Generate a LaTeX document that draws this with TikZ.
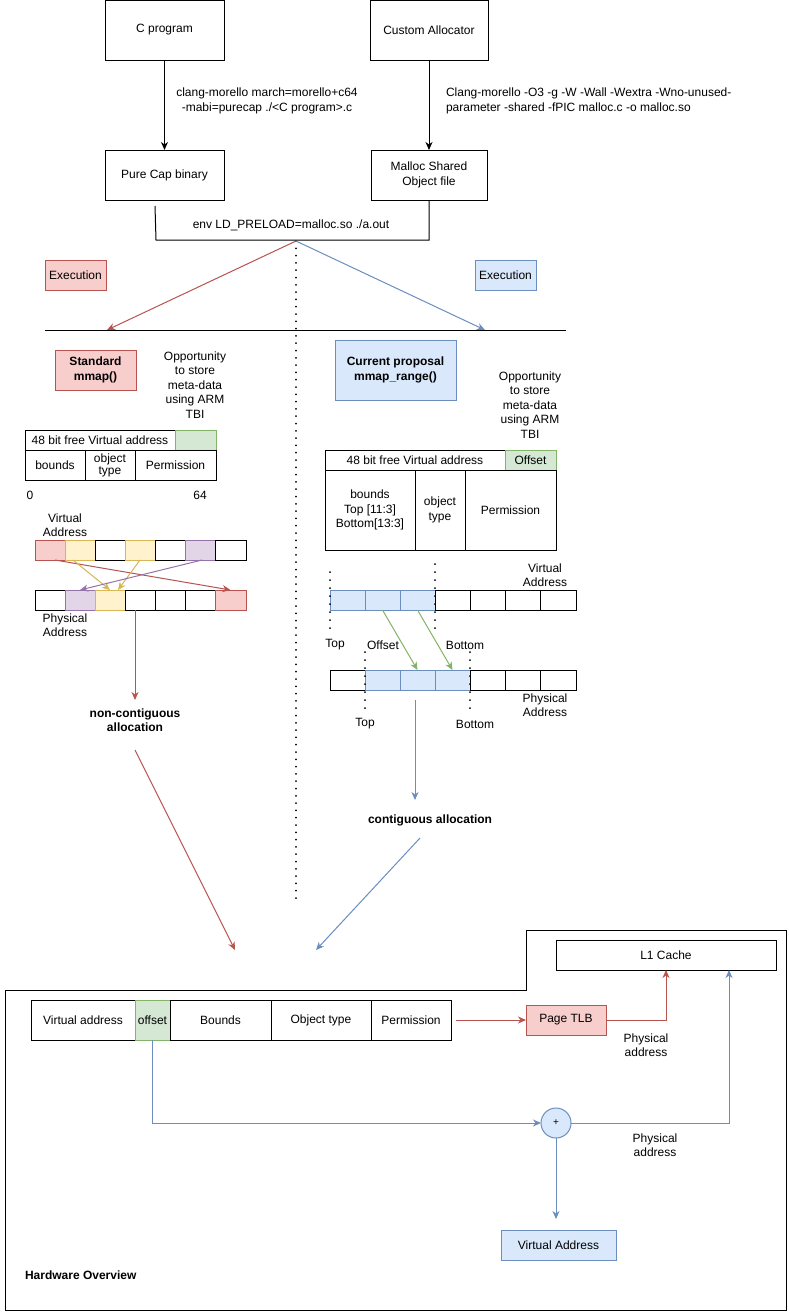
\documentclass[tikz,border=0pt]{standalone}
\usepackage{fontspec}
\setmainfont{Liberation Sans}
\usetikzlibrary{arrows.meta}
\definecolor{redF}{HTML}{F8CECC}\definecolor{redS}{HTML}{B85450}
\definecolor{bluF}{HTML}{DAE8FC}\definecolor{bluS}{HTML}{6C8EBF}
\definecolor{grnF}{HTML}{D5E8D4}\definecolor{grnS}{HTML}{82B366}
\definecolor{yelF}{HTML}{FFF2CC}\definecolor{yelS}{HTML}{D6B656}
\definecolor{purF}{HTML}{E1D5E7}\definecolor{purS}{HTML}{9673A6}
\newcommand{\rb}[7]{\node[#6, minimum width={#4-#2}, minimum height={#5-#3}] (#1) at ({(#2+#4)/2},{(#3+#5)/2}) {#7};}
\begin{document}
\begin{tikzpicture}[x=1pt,y=-1pt,
  every node/.style={font=\fontsize{12}{14.4}\selectfont, inner sep=0pt, outer sep=0pt, align=center},
  blk/.style={draw=black, line width=1pt, fill=white},
  rbx/.style={draw=redS, fill=redF, line width=1pt},
  bbx/.style={draw=bluS, fill=bluF, line width=1pt},
  gbx/.style={draw=grnS, fill=grnF, line width=1pt},
  ybx/.style={draw=yelS, fill=yelF, line width=1pt},
  pbx/.style={draw=purS, fill=purF, line width=1pt},
  bbl/.style={draw=bluS, fill=bluF, line width=0.8pt},
  bold/.style={font=\fontsize{12}{14.4}\selectfont\bfseries},
  tip/.style={-{Stealth[length=8pt,width=7pt,inset=2.5pt]}},
  arr/.style={tip, line width=1pt, draw=black},
  rarr/.style={tip, line width=1pt, draw=redS, color=redS},
  barr/.style={tip, line width=1pt, draw=bluS, color=bluS},
  garr/.style={tip, line width=1pt, draw=grnS, color=grnS},
  yarr/.style={tip, line width=1pt, draw=yelS, color=yelS},
  parr/.style={tip, line width=1pt, draw=purS, color=purS},
  dots/.style={line width=2pt, line cap=round, dash pattern=on 0pt off 7.3pt},
  sdots/.style={line width=2pt, line cap=round, dash pattern=on 0pt off 8pt}]
\useasboundingbox (0,0) rectangle (789,1312);
\fill[white] (0,0) rectangle (789,1312);

% ---------- top ----------
\rb{cprog}{105}{0}{224}{60}{blk}{C program}
\rb{custom}{370}{0}{488}{60}{blk}{Custom Allocator}
\rb{pcb}{105}{150}{224}{200}{blk}{Pure Cap binary}
\rb{mso}{371}{150}{487}{200}{blk}{Malloc Shared\\Object file}
\draw[arr] (cprog) -- (pcb);
\draw[arr] (custom.south) -- (custom.south |- mso.north);
\node (lab1) at (267,101) {clang-morello march=morello+c64\\ -mabi=purecap ./<C program>.c};
\node[anchor=west, align=left] (lab2) at (446,101) {Clang-morello -O3 -g -W -Wall -Wextra -Wno-unused-\\parameter -shared -fPIC malloc.c -o malloc.so};
\coordinate (brA) at (155,206);
\coordinate (brB) at (156,240);
\coordinate (brC) at (429,240);
\draw[line width=1pt] (brA) -- (brB) -- (brC) -- (brC |- mso.south);
\node (env) at (291,225) {env LD\_PRELOAD=malloc.so ./a.out};

% dotted divider
\coordinate (dtop) at (296,241);
\coordinate (dbot) at (296,900);
\draw[dots] (dtop) -- (dbot);
\coordinate (exL) at (107,330);
\coordinate (exR) at (485,330);
\draw[rarr] (dtop) -- (exL);
\draw[barr] (dtop) -- (exR);
\coordinate (hlA) at (45,330);
\coordinate (hlB) at (566,330);
\draw[line width=1pt] (hlA) -- (hlB);
\rb{execL}{45}{260}{106}{290}{rbx}{Execution}
\rb{execR}{475}{260}{536}{290}{bbx}{Execution}

% ---------- left ----------
\rb{std}{55}{350}{136}{390}{rbx,bold}{Standard\\mmap()}
\node (oppL) at (195,385) {Opportunity\\to store\\meta-data\\using ARM\\TBI};
\rb{lt1}{25}{430}{175}{450}{blk}{48 bit free Virtual address}
\rb{lt2}{175}{430}{216}{450}{gbx}{}
\rb{lt3}{25}{450}{85}{480}{blk}{bounds}
\rb{lt4}{85}{450}{135}{480}{blk,font=\fontsize{12}{12}\selectfont}{object\\type}
\rb{lt5}{135}{450}{216}{480}{blk}{Permission}
\node (zero) at (30,495) {0};
\node (sixfour) at (200,495) {64};
\node (vaL) at (65,525) {Virtual\\Address};
\rb{v1}{35}{540}{65}{560}{rbx}{}
\rb{v2}{65}{540}{95}{560}{ybx}{}
\rb{v3}{95}{540}{125}{560}{blk}{}
\rb{v4}{125}{540}{155}{560}{ybx}{}
\rb{v5}{155}{540}{185}{560}{blk}{}
\rb{v6}{185}{540}{215}{560}{pbx}{}
\rb{v7}{215}{540}{246}{560}{blk}{}
\rb{p1}{35}{590}{65}{610}{blk}{}
\rb{p2}{65}{590}{95}{610}{pbx}{}
\rb{p3}{95}{590}{125}{610}{ybx}{}
\rb{p4}{125}{590}{155}{610}{blk}{}
\rb{p5}{155}{590}{185}{610}{blk}{}
\rb{p6}{185}{590}{215}{610}{blk}{}
\rb{p7}{215}{590}{246}{610}{rbx}{}
\draw[rarr] ([xshift=5pt]v1.south) -- (p7.north);
\draw[yarr] ([xshift=-7pt]v2.south) -- (p3.north);
\draw[yarr] (v4.south) -- ([xshift=8pt]p3.north);
\draw[parr] ([xshift=2pt]v6.south) -- (p2.north);
\node (paL) at (65,625) {Physical\\Address};
\coordinate (ncEnd) at (135,700);
\draw[rarr] ([xshift=-5pt]p4.south) -- (ncEnd);
\node[bold] (nc) at (135,720) {non-contiguous\\allocation};
\coordinate (ncA) at (135,750);
\coordinate (ncB) at (235,950);
\draw[rarr] (ncA) -- (ncB);

% ---------- right ----------
\rb{cur}{335}{340}{456}{400}{bbx,bold}{Current proposal\\mmap\_range()}
\node (oppR) at (530,405) {Opportunity\\to store\\meta-data\\using ARM\\TBI};
\rb{rt1}{325}{450}{505}{470}{blk}{48 bit free Virtual address}
\rb{rt2}{505}{450}{556}{470}{gbx}{Offset}
\rb{rt3}{325}{470}{415}{550}{blk}{bounds\\Top [11:3]\\Bottom[13:3]}
\rb{rt4}{415}{470}{465}{550}{blk}{object\\type}
\rb{rt5}{465}{470}{556}{550}{blk}{Permission}
\rb{rv1}{330}{590}{365}{610}{bbl}{}
\rb{rv2}{365}{590}{400}{610}{bbl}{}
\rb{rv3}{400}{590}{435}{610}{bbl}{}
\rb{rv4}{435}{590}{470}{610}{blk}{}
\rb{rv5}{470}{590}{505}{610}{blk}{}
\rb{rv6}{505}{590}{540}{610}{blk}{}
\rb{rv7}{540}{590}{576}{610}{blk}{}
\rb{rp1}{330}{670}{365}{690}{blk}{}
\rb{rp2}{365}{670}{400}{690}{bbl}{}
\rb{rp3}{400}{670}{435}{690}{bbl}{}
\rb{rp4}{435}{670}{470}{690}{bbl}{}
\rb{rp5}{470}{670}{505}{690}{blk}{}
\rb{rp6}{505}{670}{540}{690}{blk}{}
\rb{rp7}{540}{670}{576}{690}{blk}{}
\coordinate (d1a) at (330,572); \coordinate (d1b) at (330,630);
\coordinate (d2a) at (435,564); \coordinate (d2b) at (435,630);
\coordinate (d3a) at (365,652); \coordinate (d3b) at (365,710);
\coordinate (d4a) at (470,652); \coordinate (d4b) at (470,710);
\draw[sdots] (d1a) -- (d1b);
\draw[sdots] (d2a) -- (d2b);
\draw[sdots] (d3a) -- (d3b);
\draw[sdots] (d4a) -- (d4b);
\node (vaR) at (545,575) {Virtual\\Address};
\node (topV) at (335,645) {Top};
\node (offV) at (383,645) {Offset};
\node (botV) at (465,645) {Bottom};
\draw[garr] (rv2.south) -- (rp3.north);
\draw[garr] (rv3.south) -- (rp4.north);
\node (paR) at (545,705) {Physical\\Address};
\node (topP) at (365,724) {Top};
\node (botP) at (475,724) {Bottom};
\coordinate (caA) at (415,700);
\coordinate (caB) at (415,800);
\draw[barr] (caA) -- (caB);
\node[bold] (ca) at (430,820) {contiguous allocation};
\coordinate (caC) at (420,838);
\coordinate (caD) at (316,950);
\draw[barr] (caC) -- (caD);

% ---------- hardware ----------
\draw[line width=1pt] (5,990) -- (526,990) -- (526,930) -- (786,930) -- (786,1310) -- (5,1310) -- cycle;
\rb{l1}{556}{940}{776}{970}{blk}{L1 Cache}
\rb{hv}{31}{1000}{135}{1040}{blk}{Virtual address}
\rb{hoff}{135}{1000}{170}{1040}{gbx}{offset}
\rb{hb}{170}{1000}{271}{1040}{blk}{Bounds}
\rb{hot}{271}{1000}{371}{1040}{blk}{Object type}
\rb{hp}{371}{1000}{451}{1040}{blk}{Permission}
\rb{tlb}{526}{1005}{606}{1035}{rbx}{Page TLB}
\coordinate (hrow) at (456,1020);
\draw[rarr] (hrow) -- (tlb.west);
\draw[rarr] (tlb.east) -| (l1.south);
\node (pa1) at (646,1045) {Physical\\address};
\node[circle, draw=bluS, fill=bluF, line width=1pt, minimum size=30pt, font=\fontsize{10}{10}\selectfont] (plus) at (556,1123) {+};
\draw[barr] (hoff.south) |- (plus.west);
\coordinate (l1in) at (729,970);
\draw[barr] (plus.east) -| (l1in);
\node (pa2) at (655,1145) {Physical\\address};
\rb{vaddr}{501}{1230}{616}{1260}{bbx}{Virtual Address}
\coordinate (vin) at (556,1219);
\draw[barr] (plus.south) -- (vin);
\node[bold, anchor=west] (hw) at (25,1275) {Hardware Overview};
\end{tikzpicture}
\end{document}
